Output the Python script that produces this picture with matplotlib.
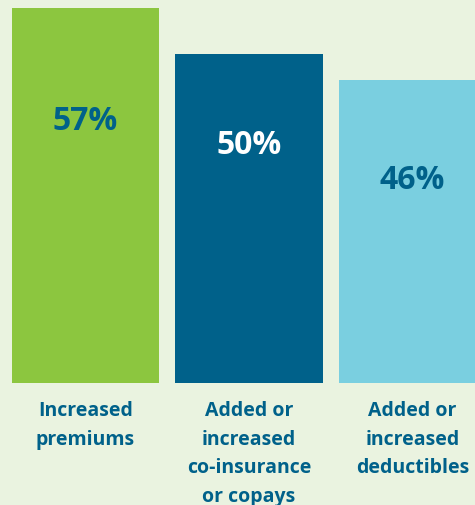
import matplotlib.pyplot as plt

categories = ["Increased\npremiums", "Added or\nincreased\nco-insurance\nor copays", "Added or\nincreased\ndeductibles"]
values = [57, 50, 46]
labels = ["57%", "50%", "46%"]
bar_colors = ["#8cc63f", "#00618a", "#7acfe0"]
label_colors = ["#00618a", "#ffffff", "#00618a"]
label_offsets = [-113, -91, -99]  # pixels below bar top, as in the original

bg = "#eaf3e0"
text_blue = "#00618a"
plt.rcParams['font.family'] = ['Open Sans', 'DejaVu Sans']

fig = plt.figure(figsize=(4.75, 5.06), dpi=100, facecolor=bg)
ax = fig.add_axes([0, 122 / 506, 1, 384 / 506])
ax.set_facecolor(bg)

x = list(range(len(values)))
ax.bar(x, values, width=0.9, color=bar_colors)
ax.set_xlim(-85.5 / 163.5, (475 - 85.5) / 163.5)
ax.set_ylim(0, 384 / 6.58)
ax.axis("off")

for i, v in enumerate(values):
    ax.annotate(labels[i], (i, v), xytext=(0, label_offsets[i] * 0.72), textcoords="offset points",
                ha="center", va="center", fontsize=23, fontweight="bold", color=label_colors[i])
    ax.annotate(categories[i], (i, 0), xytext=(0, -12.5), textcoords="offset points",
                ha="center", va="top", fontsize=14, fontweight="bold", color=text_blue,
                linespacing=1.56, annotation_clip=False)

fig.savefig("out.png", dpi=100, facecolor=bg)
